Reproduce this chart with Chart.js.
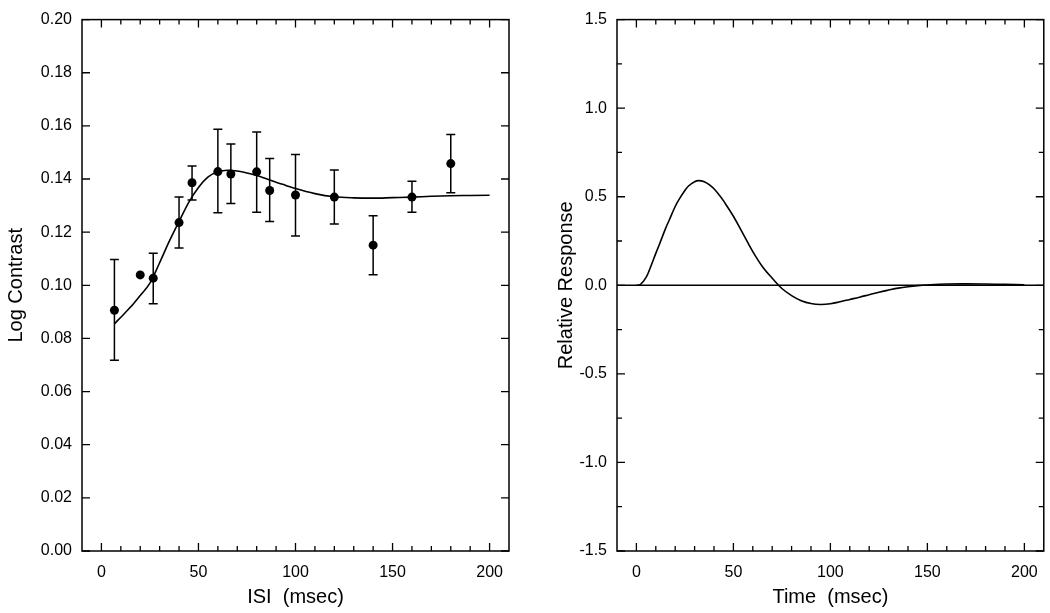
<!DOCTYPE html>
<html>
<head>
<meta charset="utf-8">
<script src="https://cdn.jsdelivr.net/npm/chart.js@4"></script>
<style>
  html, body { margin: 0; padding: 0; background: #fff; }
  #wrap { display: flex; width: 1050px; height: 613px; }
  canvas { display: block; }
</style>
</head>
<body>
<div id="wrap">
  <canvas id="left" width="525" height="613"></canvas>
  <canvas id="right" width="525" height="613"></canvas>
</div>
<script>
// left panel: measured thresholds with error bars
const isiX = [6.7, 20, 26.7, 40, 46.7, 60, 66.7, 80, 86.7, 100, 120, 140, 160, 180];
const isiY = [0.0906, 0.1039, 0.1027, 0.1236, 0.1386, 0.1428, 0.1419, 0.1427, 0.1357, 0.1340, 0.1332, 0.1151, 0.1332, 0.1458];
const errHi = [0.1097, null, 0.1121, 0.1332, 0.1449, 0.1587, 0.1532, 0.1577, 0.1477, 0.1492, 0.1434, 0.1262, 0.1392, 0.1568];
const errLo = [0.0718, null, 0.0931, 0.1140, 0.1321, 0.1273, 0.1308, 0.1275, 0.1240, 0.1186, 0.1231, 0.1040, 0.1275, 0.1348];

// left panel: model fit
const fitX = [6.7, 10, 15, 20, 25, 30, 35, 40, 45, 50, 55, 60, 65, 70, 75, 80, 85, 90, 95, 100, 110, 120, 130, 140, 150, 160, 170, 180, 190, 200];
const fitY = [0.0855, 0.0880, 0.0918, 0.0962, 0.1008, 0.1085, 0.1166, 0.1240, 0.1312, 0.1368, 0.1408, 0.1427, 0.1433, 0.1430, 0.1423, 0.1413, 0.1401, 0.1388, 0.1376, 0.1364, 0.1345, 0.1333, 0.1329, 0.1328, 0.1330, 0.1332, 0.1335, 0.1337, 0.1338, 0.1339];

// right panel: impulse response
const respX = [0, 2, 5, 7, 10, 12, 15, 17, 20, 22, 25, 27, 30, 32, 35, 38, 40, 43, 45, 50, 55, 60, 65, 70, 75, 80, 85, 90, 95, 100, 105, 110, 115, 120, 125, 130, 135, 140, 145, 150, 160, 170, 180, 190, 200];
const respY = [0, 0.004, 0.045, 0.095, 0.18, 0.235, 0.32, 0.37, 0.445, 0.485, 0.535, 0.562, 0.585, 0.591, 0.585, 0.564, 0.545, 0.505, 0.475, 0.39, 0.29, 0.19, 0.105, 0.04, -0.018, -0.058, -0.087, -0.103, -0.108, -0.104, -0.093, -0.08, -0.067, -0.053, -0.039, -0.027, -0.016, -0.008, -0.002, 0.002, 0.007, 0.008, 0.007, 0.005, 0.003];
const zeroX = [-10, 210];

// ticks
const timeTicks = [0, 50, 100, 150, 200];
const timeMinor = [10, 20, 30, 40, 60, 70, 80, 90, 110, 120, 130, 140, 160, 170, 180, 190];
const contrastTicks = [0, 0.02, 0.04, 0.06, 0.08, 0.10, 0.12, 0.14, 0.16, 0.18, 0.20];
const respTicks = [-1.5, -1.0, -0.5, 0, 0.5, 1.0, 1.5];
const respMinor = [-1.25, -0.75, -0.25, 0.25, 0.75, 1.25];

Chart.defaults.font.family = "'Liberation Sans', Arial, sans-serif";
Chart.defaults.color = '#000';

const pts = (xs, ys) => xs.map((x, i) => ({ x: x, y: ys[i] }));

// box round the plot with inward ticks on all four sides
const frameTicks = {
  id: 'frameTicks',
  afterDatasetsDraw(chart, args, opts) {
    const { ctx, chartArea: a, scales: { x, y } } = chart;
    ctx.save();
    ctx.strokeStyle = '#000';
    ctx.lineWidth = 1.5;
    ctx.strokeRect(a.left, a.top, a.right - a.left, a.bottom - a.top);
    ctx.lineWidth = 1.3;
    ctx.beginPath();
    const tx = (v, len) => {
      const p = x.getPixelForValue(v);
      ctx.moveTo(p, a.bottom); ctx.lineTo(p, a.bottom - len);
      ctx.moveTo(p, a.top); ctx.lineTo(p, a.top + len);
    };
    const ty = (v, len) => {
      const p = y.getPixelForValue(v);
      ctx.moveTo(a.left, p); ctx.lineTo(a.left + len, p);
      ctx.moveTo(a.right, p); ctx.lineTo(a.right - len, p);
    };
    opts.xMajor.forEach(v => tx(v, 8));
    opts.xMinor.forEach(v => tx(v, 5));
    opts.yMajor.forEach(v => ty(v, 8));
    (opts.yMinor || []).forEach(v => ty(v, 5));
    ctx.stroke();
    ctx.restore();
  }
};

const errorBars = {
  id: 'errorBars',
  beforeDatasetsDraw(chart, args, opts) {
    if (!opts.hi) return;
    const { ctx, scales: { x, y } } = chart;
    ctx.save();
    ctx.strokeStyle = '#000';
    ctx.lineWidth = 1.5;
    ctx.beginPath();
    opts.xs.forEach((v, i) => {
      if (opts.hi[i] == null) return;
      const px = x.getPixelForValue(v);
      const top = y.getPixelForValue(opts.hi[i]);
      const bot = y.getPixelForValue(opts.lo[i]);
      ctx.moveTo(px, top); ctx.lineTo(px, bot);
      ctx.moveTo(px - 4.5, top); ctx.lineTo(px + 4.5, top);
      ctx.moveTo(px - 4.5, bot); ctx.lineTo(px + 4.5, bot);
    });
    ctx.stroke();
    ctx.restore();
  }
};

function axes(yMin, yMax, yTickVals, yFmt, yTitle, xTitle, yWidth, yTitlePad) {
  return {
    x: {
      type: 'linear', min: -10, max: 210,
      grid: { display: false, tickLength: 0 }, border: { display: false },
      afterBuildTicks: s => { s.ticks = timeTicks.map(v => ({ value: v })); },
      afterFit: s => { s.height = 62; },
      ticks: { font: { size: 16 }, padding: 12, maxRotation: 0 },
      title: { display: true, text: xTitle, font: { size: 20 }, padding: { top: 0, bottom: 4 } }
    },
    y: {
      type: 'linear', min: yMin, max: yMax,
      grid: { display: false, tickLength: 0 }, border: { display: false },
      afterBuildTicks: s => { s.ticks = yTickVals.map(v => ({ value: v })); },
      afterFit: s => { s.width = yWidth; },
      ticks: { font: { size: 16 }, padding: 10, callback: yFmt },
      title: { display: true, text: yTitle, font: { size: 20 }, padding: { top: yTitlePad, bottom: 0 } }
    }
  };
}

new Chart(document.getElementById('left'), {
  type: 'scatter',
  data: {
    datasets: [
      {
        label: 'fit', data: pts(fitX, fitY), showLine: true,
        borderColor: '#000', borderWidth: 1.6, pointRadius: 0,
        cubicInterpolationMode: 'monotone'
      },
      {
        label: 'data', data: pts(isiX, isiY),
        backgroundColor: '#000', borderWidth: 0, pointRadius: 4.5
      }
    ]
  },
  options: {
    responsive: false, animation: false,
    layout: { padding: { top: 17, right: 16, left: 0, bottom: 0 } },
    plugins: {
      legend: { display: false }, tooltip: { enabled: false },
      frameTicks: { xMajor: timeTicks, xMinor: timeMinor, yMajor: contrastTicks },
      errorBars: { xs: isiX, hi: errHi, lo: errLo }
    },
    scales: axes(0, 0.2, contrastTicks, v => v.toFixed(2), 'Log Contrast', 'ISI  (msec)', 82, 4)
  },
  plugins: [frameTicks, errorBars]
});

new Chart(document.getElementById('right'), {
  type: 'scatter',
  data: {
    datasets: [
      {
        label: 'zero', data: pts(zeroX, [0, 0]), showLine: true,
        borderColor: '#000', borderWidth: 1.5, pointRadius: 0
      },
      {
        label: 'response', data: pts(respX, respY), showLine: true,
        borderColor: '#000', borderWidth: 1.6, pointRadius: 0,
        tension: 0.4
      }
    ]
  },
  options: {
    responsive: false, animation: false,
    layout: { padding: { top: 17, right: 6, left: 0, bottom: 0 } },
    plugins: {
      legend: { display: false }, tooltip: { enabled: false },
      frameTicks: { xMajor: timeTicks, xMinor: timeMinor, yMajor: respTicks, yMinor: respMinor },
      errorBars: {}
    },
    scales: axes(-1.5, 1.5, respTicks, v => v.toFixed(1), 'Relative Response', 'Time  (msec)', 92, 29)
  },
  plugins: [frameTicks, errorBars]
});
</script>
</body>
</html>
